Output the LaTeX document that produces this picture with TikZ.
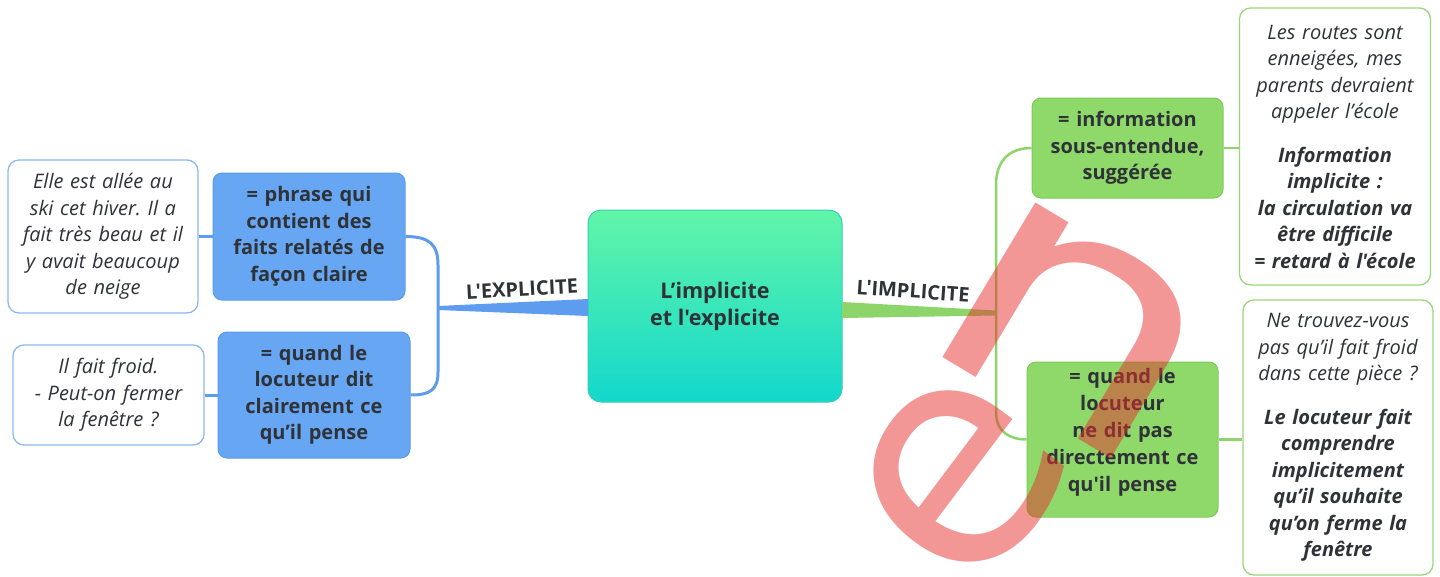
\documentclass[tikz,border=0pt]{standalone}
\usepackage{fontspec}
\setmainfont{Open Sans}[Ligatures=TeXOff]
\newfontface\wmfont{DejaVu Sans}
\usetikzlibrary{calc}
\definecolor{ink}{HTML}{2F3237}
\definecolor{bluefill}{HTML}{66A6F2}
\definecolor{blueline}{HTML}{5B9BE8}
\definecolor{bluecon}{HTML}{5E9CF0}
\definecolor{bluewhiteline}{HTML}{8DB9EE}
\definecolor{greenfill}{HTML}{8FD96B}
\definecolor{greenline}{HTML}{7CCB5A}
\definecolor{greencon}{HTML}{8DD56A}
\definecolor{greenwhiteline}{HTML}{9AD67C}
\definecolor{ctop}{HTML}{62F5A8}
\definecolor{cbot}{HTML}{12D8CC}
\definecolor{cline}{HTML}{35CDB6}
\definecolor{wmred}{HTML}{E82E2E}
\newcommand\boldtxt{\fontsize{20}{26.5}\selectfont\bfseries}
\newcommand\itxt{\fontsize{20}{26.5}\selectfont\itshape}
\begin{document}
\frenchspacing
\begin{tikzpicture}[x=1pt,y=-1pt,
  txt/.style={text=ink, align=center, inner sep=0pt, text width=186pt},
  colbox/.style={txt, rectangle, rounded corners=9pt, line width=1pt, font=\boldtxt},
  bluebox/.style={colbox, fill=bluefill, draw=blueline},
  greenbox/.style={colbox, fill=greenfill, draw=greenline},
  whitebox/.style={txt, rectangle, rounded corners=11pt, fill=white, line width=1.3pt, font=\itxt},
  bluewhite/.style={whitebox, draw=bluewhiteline},
  greenwhite/.style={whitebox, draw=greenwhiteline},
  central/.style={rectangle, rounded corners=13pt, top color=ctop, bottom color=cbot, draw=cline, line width=1pt, text=ink, align=center, inner sep=0pt, font=\fontsize{21.5}{27}\selectfont\bfseries},
  lbl/.style={text=ink, inner sep=0pt, font=\fontsize{20}{22}\selectfont\bfseries},
  bluelink/.style={draw=bluecon, line width=3pt},
  greenlink/.style={draw=greencon, line width=2.5pt},
  wm/.style={text=wmred, inner sep=0pt}
]
\useasboundingbox (0,0) rectangle (1440,576);
\fill[white] (0,0) rectangle (1440,576);

% central node
\node[central, minimum width=254pt, minimum height=192pt] (c) at (715,306) {L’implicite\\et l'explicite};

% left side
\node[bluebox, minimum width=192pt, minimum height=127pt] (bT) at (309,236.5) {= phrase qui\\contient des\\faits relatés de\\façon claire};
\node[bluebox, minimum width=192pt, minimum height=126pt] (bB) at (314,395) {= quand le\\locuteur dit\\clairement ce\\qu’il pense};
\node[bluewhite, minimum width=190pt, minimum height=153pt] (w1) at (103,236.5) {Elle est allée au\\ski cet hiver. Il a\\fait très beau et il\\y avait beaucoup\\de neige};
\node[bluewhite, minimum width=191pt, minimum height=100pt] (w2) at (108.5,395) {Il fait froid.\\- Peut-on fermer\\la fenêtre ?};

% right side
\node[greenbox, minimum width=191pt, minimum height=100pt] (gT) at (1127.5,148) {= information\\sous-entendue,\\suggérée};
\node[greenbox, minimum width=191pt, minimum height=155pt] (gB) at (1122.5,439.5) {};
\node[txt, font=\fontsize{20}{27}\selectfont\bfseries] (gBt) at (1122.5,432.5) {= quand le\\locuteur\\ne dit pas\\directement ce\\qu'il pense};
\node[greenwhite, minimum width=191pt, minimum height=277pt] (wR1) at (1335,146.5) {Les routes sont\\enneigées, mes\\parents devraient\\appeler l’école\\[17pt]\bfseries Information\\implicite :\\la circulation va\\être difficile\\= retard à l'école};
\node[greenwhite, minimum width=190pt, minimum height=275pt] (wR2) at (1338,437.5) {Ne trouvez-vous\\pas qu’il fait froid\\dans cette pièce ?\\[17pt]\bfseries Le locuteur fait\\comprendre\\implicitement\\qu’il souhaite\\qu’on ferme la\\fenêtre};

% junctions
\coordinate (bj) at (438,308);
\coordinate (gj) at (996,313);

% branches from the central node
\fill[bluecon] ($(c.west)+(0.5,-7)$) -- ($(bj)+(0,-2)$) -- ($(bj)+(0,2)$) -- ($(c.west)+(0.5,10)$) -- cycle;
\fill[greencon] ($(c.east)+(-0.5,-4)$) -- ($(gj)+(0,-2.5)$) -- ($(gj)+(0,2.5)$) -- ($(c.east)+(-0.5,12)$) -- cycle;

% brackets
\draw[bluelink] (bT.east) .. controls (430,236.5) and (438,245) .. (438,265) -- (bj) -- (438,372) .. controls (438,390) and (430,395) .. (bB.east);
\draw[greenlink] (gT.west) .. controls (1010,148) and (996,160) .. (996,185) -- (gj) -- (996,412) .. controls (996,432) and (1010,439.5) .. (gB.west);

% leaf links
\draw[bluelink] (w1.east) -- (bT.west);
\draw[bluelink] (w2.east) -- (bB.west);
\draw[greenlink] (gT.east) -- (gT.east -| wR1.west);
\draw[greenlink] (gB.east) -- (gB.east -| wR2.west);

% branch labels
\node[lbl, rotate=3] (le) at (522,289) {L'EXPLICITE};
\node[lbl, rotate=-4] (li) at (913,291) {L'IMPLICITE};

% watermark
\begin{scope}[transparency group, opacity=0.5]
\node[wm, rotate=53, font=\wmfont\fontsize{310}{310}\selectfont] (wme) at (960,478) {e};
\node[wm, rotate=-31, xscale=1.3, font=\wmfont\fontsize{330}{330}\selectfont] (wmn) at (1074,328) {n};
\end{scope}
\end{tikzpicture}
\end{document}
